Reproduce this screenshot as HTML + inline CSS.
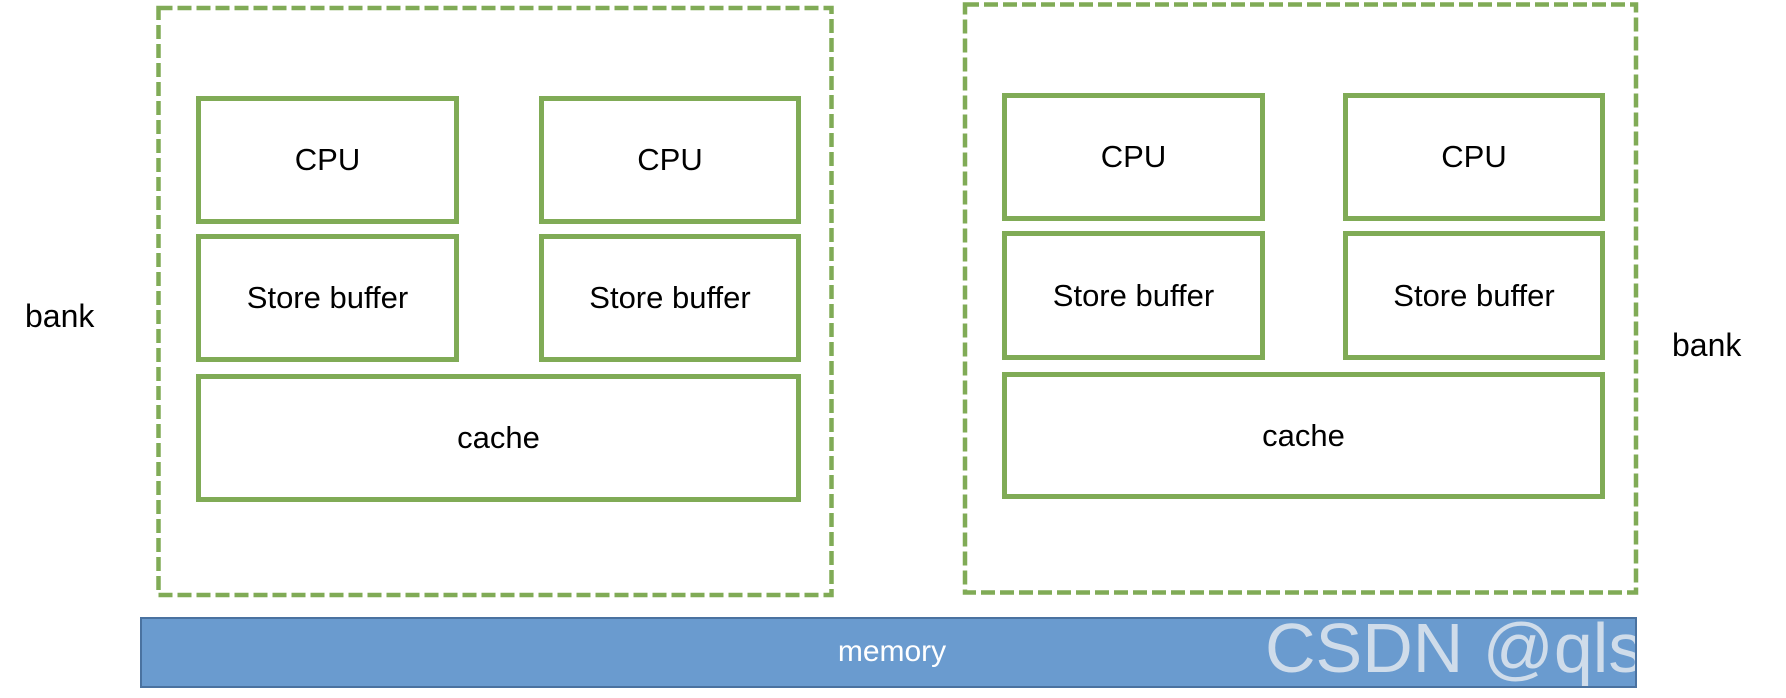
<!DOCTYPE html>
<html><head><meta charset="utf-8"><style>
html,body{margin:0;padding:0;background:#fff;}
body{width:1786px;height:698px;position:relative;overflow:hidden;font-family:"Liberation Sans",sans-serif;}
.b{position:absolute;box-sizing:border-box;border:5px solid #80ab56;display:flex;align-items:center;justify-content:center;font-size:31px;color:#000;}
.t{position:absolute;font-size:32px;color:#000;line-height:1;}
</style></head><body>
<svg width="1786" height="698" style="position:absolute;left:0;top:0">
<rect x="158.5" y="8" width="673" height="587" fill="none" stroke="#80ab56" stroke-width="4.5" stroke-dasharray="14,5"/>
<rect x="965" y="4.5" width="671" height="588" fill="none" stroke="#80ab56" stroke-width="4.5" stroke-dasharray="14,5"/>
</svg>
<div class="b" style="left:196px;top:96px;width:263px;height:128px">CPU</div>
<div class="b" style="left:539px;top:96px;width:262px;height:128px">CPU</div>
<div class="b" style="left:196px;top:234px;width:263px;height:128px">Store buffer</div>
<div class="b" style="left:539px;top:234px;width:262px;height:128px">Store buffer</div>
<div class="b" style="left:196px;top:374px;width:605px;height:128px">cache</div>
<div class="b" style="left:1002px;top:93px;width:263px;height:128px">CPU</div>
<div class="b" style="left:1343px;top:93px;width:262px;height:128px">CPU</div>
<div class="b" style="left:1002px;top:231px;width:263px;height:129px">Store buffer</div>
<div class="b" style="left:1343px;top:231px;width:262px;height:129px">Store buffer</div>
<div class="b" style="left:1002px;top:372px;width:603px;height:127px">cache</div>
<div class="t" style="left:25px;top:300px">bank</div>
<div class="t" style="left:1672px;top:329px">bank</div>
<div style="position:absolute;left:140px;top:617px;width:1497px;height:71px;box-sizing:border-box;background:#6a9bcf;border:2px solid #4a72a0;overflow:hidden;">
<div style="position:absolute;left:0;width:1500px;top:18px;text-align:center;color:#fff;font-size:30px;line-height:1;">memory</div>
<div style="position:absolute;left:1123px;top:-6px;color:#cfdcea;font-size:70px;line-height:1;white-space:nowrap;">CSDN @qls</div>
</div>
</body></html>
